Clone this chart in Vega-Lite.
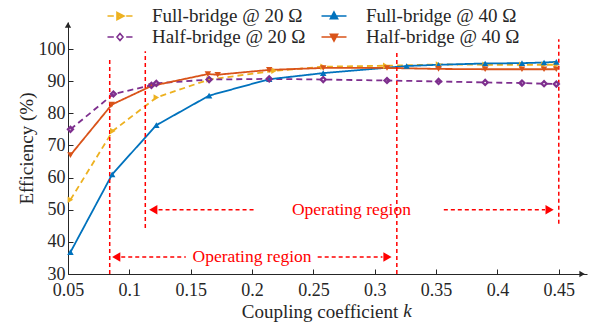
{
  "$schema": "https://vega.github.io/schema/vega-lite/v6.json",
  "autosize": "none",
  "width": 519,
  "height": 252,
  "padding": {"left": 68, "top": 22, "right": 13, "bottom": 48},
  "background": "white",
  "config": {
    "view": {"stroke": null},
    "font": "Liberation Serif",
    "axis": {
      "labelFont": "Liberation Serif",
      "labelFontSize": 18,
      "labelColor": "#262626",
      "titleFont": "Liberation Serif",
      "titleFontSize": 19,
      "titleFontWeight": "normal",
      "titleColor": "#262626",
      "domainColor": "#262626",
      "tickColor": "#262626",
      "grid": false,
      "tickSize": 5,
      "labelFlush": false,
      "labelOverlap": false
    }
  },
  "resolve": {"scale": {"color": "independent", "shape": "independent", "strokeDash": "independent"}},
  "datasets": {
    "efficiency": [
      {"k": 0.052, "eff": 53.1, "series": "Full-bridge @ 20 Ω"},
      {"k": 0.0865, "eff": 74.5, "series": "Full-bridge @ 20 Ω"},
      {"k": 0.122, "eff": 84.9, "series": "Full-bridge @ 20 Ω"},
      {"k": 0.165, "eff": 90.5, "series": "Full-bridge @ 20 Ω"},
      {"k": 0.218, "eff": 93.2, "series": "Full-bridge @ 20 Ω"},
      {"k": 0.258, "eff": 94.5, "series": "Full-bridge @ 20 Ω"},
      {"k": 0.309, "eff": 94.8, "series": "Full-bridge @ 20 Ω"},
      {"k": 0.352, "eff": 95.2, "series": "Full-bridge @ 20 Ω"},
      {"k": 0.39, "eff": 95.1, "series": "Full-bridge @ 20 Ω"},
      {"k": 0.42, "eff": 95.1, "series": "Full-bridge @ 20 Ω"},
      {"k": 0.438, "eff": 95.1, "series": "Full-bridge @ 20 Ω"},
      {"k": 0.448, "eff": 95.1, "series": "Full-bridge @ 20 Ω"},

      {"k": 0.052, "eff": 75.0, "series": "Half-bridge @ 20 Ω"},
      {"k": 0.087, "eff": 86.0, "series": "Half-bridge @ 20 Ω"},
      {"k": 0.118, "eff": 88.7, "series": "Half-bridge @ 20 Ω"},
      {"k": 0.122, "eff": 89.3, "series": "Half-bridge @ 20 Ω"},
      {"k": 0.165, "eff": 90.5, "series": "Half-bridge @ 20 Ω"},
      {"k": 0.214, "eff": 90.7, "series": "Half-bridge @ 20 Ω"},
      {"k": 0.258, "eff": 90.5, "series": "Half-bridge @ 20 Ω"},
      {"k": 0.31, "eff": 90.2, "series": "Half-bridge @ 20 Ω"},
      {"k": 0.352, "eff": 89.9, "series": "Half-bridge @ 20 Ω"},
      {"k": 0.39, "eff": 89.6, "series": "Half-bridge @ 20 Ω"},
      {"k": 0.42, "eff": 89.4, "series": "Half-bridge @ 20 Ω"},
      {"k": 0.438, "eff": 89.2, "series": "Half-bridge @ 20 Ω"},
      {"k": 0.448, "eff": 89.1, "series": "Half-bridge @ 20 Ω"},

      {"k": 0.052, "eff": 36.8, "series": "Full-bridge @ 40 Ω"},
      {"k": 0.086, "eff": 61.0, "series": "Full-bridge @ 40 Ω"},
      {"k": 0.122, "eff": 76.3, "series": "Full-bridge @ 40 Ω"},
      {"k": 0.165, "eff": 85.5, "series": "Full-bridge @ 40 Ω"},
      {"k": 0.214, "eff": 90.6, "series": "Full-bridge @ 40 Ω"},
      {"k": 0.258, "eff": 92.5, "series": "Full-bridge @ 40 Ω"},
      {"k": 0.326, "eff": 94.7, "series": "Full-bridge @ 40 Ω"},
      {"k": 0.352, "eff": 95.1, "series": "Full-bridge @ 40 Ω"},
      {"k": 0.39, "eff": 95.5, "series": "Full-bridge @ 40 Ω"},
      {"k": 0.42, "eff": 95.6, "series": "Full-bridge @ 40 Ω"},
      {"k": 0.438, "eff": 95.8, "series": "Full-bridge @ 40 Ω"},
      {"k": 0.448, "eff": 96.0, "series": "Full-bridge @ 40 Ω"},

      {"k": 0.052, "eff": 67.0, "series": "Half-bridge @ 40 Ω"},
      {"k": 0.0857, "eff": 82.7, "series": "Half-bridge @ 40 Ω"},
      {"k": 0.118, "eff": 88.5, "series": "Half-bridge @ 40 Ω"},
      {"k": 0.164, "eff": 92.2, "series": "Half-bridge @ 40 Ω"},
      {"k": 0.172, "eff": 92.0, "series": "Half-bridge @ 40 Ω"},
      {"k": 0.214, "eff": 93.5, "series": "Half-bridge @ 40 Ω"},
      {"k": 0.258, "eff": 94.1, "series": "Half-bridge @ 40 Ω"},
      {"k": 0.31, "eff": 94.1, "series": "Half-bridge @ 40 Ω"},
      {"k": 0.352, "eff": 93.8, "series": "Half-bridge @ 40 Ω"},
      {"k": 0.39, "eff": 93.7, "series": "Half-bridge @ 40 Ω"},
      {"k": 0.42, "eff": 93.7, "series": "Half-bridge @ 40 Ω"},
      {"k": 0.438, "eff": 93.7, "series": "Half-bridge @ 40 Ω"},
      {"k": 0.448, "eff": 93.7, "series": "Half-bridge @ 40 Ω"}
    ],
    "bounds": [
      {"k": 0.084, "lo": 30, "hi": 96.9},
      {"k": 0.113, "lo": 44.3, "hi": 99.3},
      {"k": 0.318, "lo": 30, "hi": 99.3},
      {"k": 0.45, "lo": 45.6, "hi": 103}
    ],
    "spans": [
      {"k1": 0.1238, "k2": 0.2034, "eff": 50},
      {"k1": 0.3563, "k2": 0.4388, "eff": 50},
      {"k1": 0.0934, "k2": 0.146, "eff": 35.3},
      {"k1": 0.2535, "k2": 0.3063, "eff": 35.3}
    ],
    "heads": [
      {"k": 0.1195, "eff": 50, "side": "left"},
      {"k": 0.4425, "eff": 50, "side": "right"},
      {"k": 0.0893, "eff": 35.3, "side": "left"},
      {"k": 0.3104, "eff": 35.3, "side": "right"}
    ],
    "regions": [
      {"k": 0.281, "eff": 50, "label": "Operating region"},
      {"k": 0.2, "eff": 35.3, "label": "Operating region"}
    ],
    "symbolK": [
      {"k": 0.3267, "eff": 18.6, "label": "k"}
    ],
    "axisEnds": [
      {"k": 0.469, "eff": 30, "side": "right"},
      {"k": 0.05, "eff": 107.5, "side": "up"}
    ]
  },
  "layer": [
    {
      "data": {"name": "efficiency"},
      "mark": {"type": "line", "strokeWidth": 1.8},
      "encoding": {
        "x": {
          "field": "k",
          "type": "quantitative",
          "scale": {"domain": [0.05, 0.473], "nice": false, "zero": false},
          "axis": {
            "values": [0.05, 0.1, 0.15, 0.2, 0.25, 0.3, 0.35, 0.4, 0.45],
            "format": ".2~f",
            "title": "Coupling coefficient",
            "titleX": 251.5,
            "tickSize": -5,
            "labelPadding": 12,
            "titlePadding": 3
          }
        },
        "y": {
          "field": "eff",
          "type": "quantitative",
          "scale": {"domain": [30, 108.4], "nice": false, "zero": false},
          "axis": {
            "tickCount": 8,
            "title": "Efficiency (%)",
            "tickSize": -5,
            "labelPadding": 8,
            "titlePadding": 2
          }
        },
        "color": {
          "field": "series",
          "type": "nominal",
          "scale": {
            "domain": ["Full-bridge @ 20 Ω", "Full-bridge @ 40 Ω", "Half-bridge @ 20 Ω", "Half-bridge @ 40 Ω"],
            "range": ["#EDB120", "#0072BD", "#7E2F8E", "#D95319"]
          },
          "legend": null
        },
        "strokeDash": {
          "field": "series",
          "type": "nominal",
          "scale": {
            "domain": ["Full-bridge @ 20 Ω", "Full-bridge @ 40 Ω", "Half-bridge @ 20 Ω", "Half-bridge @ 40 Ω"],
            "range": [[6, 4], [1, 0], [6, 4], [1, 0]]
          },
          "legend": null
        }
      }
    },
    {
      "data": {"name": "bounds"},
      "mark": {"type": "rule", "color": "#FF0000", "strokeWidth": 1.5, "strokeDash": [4, 3]},
      "encoding": {
        "x": {"field": "k", "type": "quantitative"},
        "y": {"field": "lo", "type": "quantitative"},
        "y2": {"field": "hi"}
      }
    },
    {
      "data": {"name": "spans"},
      "mark": {"type": "rule", "color": "#FF0000", "strokeWidth": 1.5, "strokeDash": [4, 3]},
      "encoding": {
        "x": {"field": "k1", "type": "quantitative"},
        "x2": {"field": "k2"},
        "y": {"field": "eff", "type": "quantitative"}
      }
    },
    {
      "data": {"name": "heads"},
      "transform": [{"filter": "datum.side === 'left'"}],
      "mark": {"type": "point", "shape": "triangle-left", "filled": true, "color": "#FF0000", "opacity": 1, "size": 90},
      "encoding": {
        "x": {"field": "k", "type": "quantitative"},
        "y": {"field": "eff", "type": "quantitative"}
      }
    },
    {
      "data": {"name": "heads"},
      "transform": [{"filter": "datum.side === 'right'"}],
      "mark": {"type": "point", "shape": "triangle-right", "filled": true, "color": "#FF0000", "opacity": 1, "size": 90},
      "encoding": {
        "x": {"field": "k", "type": "quantitative"},
        "y": {"field": "eff", "type": "quantitative"}
      }
    },
    {
      "data": {"name": "regions"},
      "mark": {"type": "text", "font": "Liberation Serif", "fontSize": 17.5, "color": "#FF0000", "align": "center", "baseline": "middle"},
      "encoding": {
        "x": {"field": "k", "type": "quantitative"},
        "y": {"field": "eff", "type": "quantitative"},
        "text": {"field": "label"}
      }
    },
    {
      "data": {"name": "symbolK"},
      "mark": {"type": "text", "font": "Liberation Serif", "fontSize": 19, "fontStyle": "italic", "color": "#262626", "align": "center", "baseline": "middle"},
      "encoding": {
        "x": {"field": "k", "type": "quantitative"},
        "y": {"field": "eff", "type": "quantitative"},
        "text": {"field": "label"}
      }
    },
    {
      "data": {"name": "efficiency"},
      "transform": [{"filter": "datum.series !== 'Half-bridge @ 20 Ω'"}],
      "mark": {"type": "point", "filled": true, "opacity": 1, "size": 42},
      "encoding": {
        "x": {"field": "k", "type": "quantitative"},
        "y": {"field": "eff", "type": "quantitative"},
        "color": {
          "field": "series",
          "type": "nominal",
          "scale": {
            "domain": ["Full-bridge @ 20 Ω", "Full-bridge @ 40 Ω", "Half-bridge @ 20 Ω", "Half-bridge @ 40 Ω"],
            "range": ["#EDB120", "#0072BD", "#7E2F8E", "#D95319"]
          },
          "legend": null
        },
        "shape": {
          "field": "series",
          "type": "nominal",
          "scale": {
            "domain": ["Full-bridge @ 20 Ω", "Full-bridge @ 40 Ω", "Half-bridge @ 20 Ω", "Half-bridge @ 40 Ω"],
            "range": ["triangle-right", "triangle-up", "diamond", "triangle-down"]
          },
          "legend": null
        }
      }
    },
    {
      "data": {"name": "efficiency"},
      "transform": [{"filter": "datum.series === 'Half-bridge @ 20 Ω'"}],
      "mark": {"type": "point", "shape": "diamond", "filled": false, "color": "#7E2F8E", "strokeWidth": 2.2, "opacity": 1, "size": 26},
      "encoding": {
        "x": {"field": "k", "type": "quantitative"},
        "y": {"field": "eff", "type": "quantitative"}
      }
    },
    {
      "data": {"name": "efficiency"},
      "transform": [{"filter": "false"}],
      "mark": {"type": "point", "filled": false, "opacity": 1, "strokeWidth": 1.6},
      "encoding": {
        "x": {"field": "k", "type": "quantitative"},
        "y": {"field": "eff", "type": "quantitative"},
        "color": {
          "field": "series",
          "type": "nominal",
          "scale": {
            "domain": ["Full-bridge @ 20 Ω", "Full-bridge @ 40 Ω", "Half-bridge @ 20 Ω", "Half-bridge @ 40 Ω"],
            "range": ["#EDB120", "#0072BD", "#7E2F8E", "#D95319"]
          },
          "legend": {
            "title": null,
            "orient": "none",
            "legendX": 41,
            "legendY": -17,
            "direction": "horizontal",
            "columns": 2,
            "columnPadding": 12,
            "rowPadding": 0,
            "padding": 0,
            "symbolSize": 400,
            "symbolStrokeWidth": 1.6,
            "symbolOpacity": 1,
            "labelFont": "Liberation Serif",
            "labelFontSize": 19,
            "labelColor": "#262626",
            "labelOffset": 21,
            "labelLimit": 300
          }
        },
        "shape": {
          "field": "series",
          "type": "nominal",
          "scale": {
            "domain": ["Full-bridge @ 20 Ω", "Full-bridge @ 40 Ω", "Half-bridge @ 20 Ω", "Half-bridge @ 40 Ω"],
            "range": [
              "M-1.25,0H-0.62M0.62,0H1.25M-0.3,-0.36L0.4,0L-0.3,0.36ZM-0.16,-0.14L0.14,0L-0.16,0.14Z",
              "M-1.25,0H1.25M0,-0.4L0.36,0.28L-0.36,0.28ZM0,-0.14L0.14,0.14L-0.14,0.14Z",
              "M-1.25,0H-0.62M0.62,0H1.25M0,-0.36L0.3,0L0,0.36L-0.3,0Z",
              "M-1.25,0H1.25M-0.36,-0.28L0.36,-0.28L0,0.4ZM-0.14,-0.14L0.14,-0.14L0,0.14Z"
            ]
          },
          "legend": {
            "title": null,
            "orient": "none",
            "legendX": 41,
            "legendY": -17,
            "direction": "horizontal",
            "columns": 2,
            "columnPadding": 12,
            "rowPadding": 0,
            "padding": 0,
            "symbolSize": 400,
            "symbolStrokeWidth": 1.6,
            "symbolOpacity": 1,
            "labelFont": "Liberation Serif",
            "labelFontSize": 19,
            "labelColor": "#262626",
            "labelOffset": 21,
            "labelLimit": 300
          }
        }
      }
    },
    {
      "data": {"name": "axisEnds"},
      "transform": [{"filter": "datum.side === 'right'"}],
      "mark": {"type": "point", "shape": "triangle-right", "filled": true, "color": "#262626", "opacity": 1, "size": 40},
      "encoding": {
        "x": {"field": "k", "type": "quantitative"},
        "y": {"field": "eff", "type": "quantitative"}
      }
    },
    {
      "data": {"name": "axisEnds"},
      "transform": [{"filter": "datum.side === 'up'"}],
      "mark": {"type": "point", "shape": "triangle-up", "filled": true, "color": "#262626", "opacity": 1, "size": 40},
      "encoding": {
        "x": {"field": "k", "type": "quantitative"},
        "y": {"field": "eff", "type": "quantitative"}
      }
    }
  ]
}
